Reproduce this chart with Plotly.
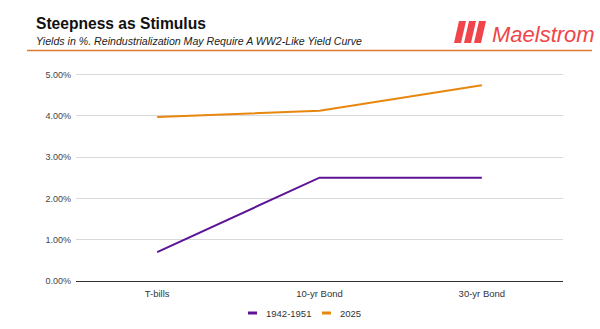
import plotly.graph_objects as go

categories = ["T-bills", "10-yr Bond", "30-yr Bond"]
series_names = ["1942-1951", "2025"]
series_colors = ["#5c1396", "#e8870e"]
ww2_values = [0.70, 2.50, 2.50]
y2025_values = [3.97, 4.12, 4.74]
y_ticks = [0, 1, 2, 3, 4, 5]
y_tick_labels = ["0.00%", "1.00%", "2.00%", "3.00%", "4.00%", "5.00%"]

W, H = 600, 329
L, R, T, B = 76, 37, 62, 48
PW, PH = W - L - R, H - T - B

def px(x):
    return (x - L) / PW

def py(y):
    return (H - B - y) / PH

fig = go.Figure()
fig.add_trace(go.Scatter(x=categories, y=ww2_values, name=series_names[0], mode="lines",
                         line=dict(color=series_colors[0], width=2), showlegend=False))
fig.add_trace(go.Scatter(x=categories, y=y2025_values, name=series_names[1], mode="lines",
                         line=dict(color=series_colors[1], width=2), showlegend=False))

shapes = [
    dict(type="line", xref="paper", yref="paper", x0=px(27), x1=px(592), y0=py(50.5), y1=py(50.5),
         line=dict(color="#e07a2e", width=1.5)),
]
# logo bars
for i in range(3):
    x0 = 454 + i * 10
    path = (f"M {px(x0)},{py(43)} L {px(x0+7)},{py(43)} "
            f"L {px(x0+12)},{py(21)} L {px(x0+5)},{py(21)} Z")
    shapes.append(dict(type="path", xref="paper", yref="paper", path=path,
                       fillcolor="#f0454a", line=dict(width=0)))

annotations = [
    dict(text="<b>Steepness as Stimulus</b>", x=px(34), y=py(23.5), xref="paper", yref="paper",
         xanchor="left", yanchor="middle", showarrow=False,
         font=dict(family="Liberation Sans, Arial", size=15.6, color="#111111")),
    dict(text="<i>Yields in %. Reindustrialization May Require A WW2-Like Yield Curve</i>",
         x=px(34), y=py(40.5), xref="paper", yref="paper", xanchor="left", yanchor="middle",
         showarrow=False, font=dict(family="Liberation Sans, Arial", size=10.6, color="#222222")),
    dict(text="<i>Maelstrom</i>", x=px(490), y=py(35), xref="paper", yref="paper",
         xanchor="left", yanchor="middle", showarrow=False,
         font=dict(family="Liberation Sans, Arial", size=22, color="#f0454a")),
]

# legend (drawn manually to match the short dash swatches)
legend_x = [248, 322]
for name, color, lx in zip(series_names, series_colors, legend_x):
    shapes.append(dict(type="line", xref="paper", yref="paper",
                       x0=px(lx), x1=px(lx + 9), y0=py(313), y1=py(313),
                       line=dict(color=color, width=3)))
    annotations.append(dict(text=name, x=px(lx + 16), y=py(313), xref="paper", yref="paper",
                            xanchor="left", yanchor="middle", showarrow=False,
                            font=dict(family="Liberation Sans, Arial", size=9.5, color="#333333")))

fig.update_layout(
    width=W, height=H,
    margin=dict(l=L, r=R, t=T, b=B, autoexpand=False),
    paper_bgcolor="white", plot_bgcolor="white",
    shapes=shapes, annotations=annotations,
    font=dict(family="Liberation Sans, Arial", size=9, color="#444444"),
    showlegend=False,
)
fig.update_xaxes(range=[-0.5, 2.5], showgrid=False, showline=True, linecolor="#333333",
                 linewidth=1, ticks="", tickfont=dict(size=9.5, color="#333333"),
                 ticklabelstandoff=4, fixedrange=True)
fig.update_yaxes(range=[0, 5.3], tickvals=y_ticks, ticktext=y_tick_labels, showgrid=True,
                 gridcolor="#d9d9d9", gridwidth=1, zeroline=False, showline=False,
                 tickfont=dict(size=9, color="#444444"), ticklabelstandoff=4)

fig.write_html("out.html")
